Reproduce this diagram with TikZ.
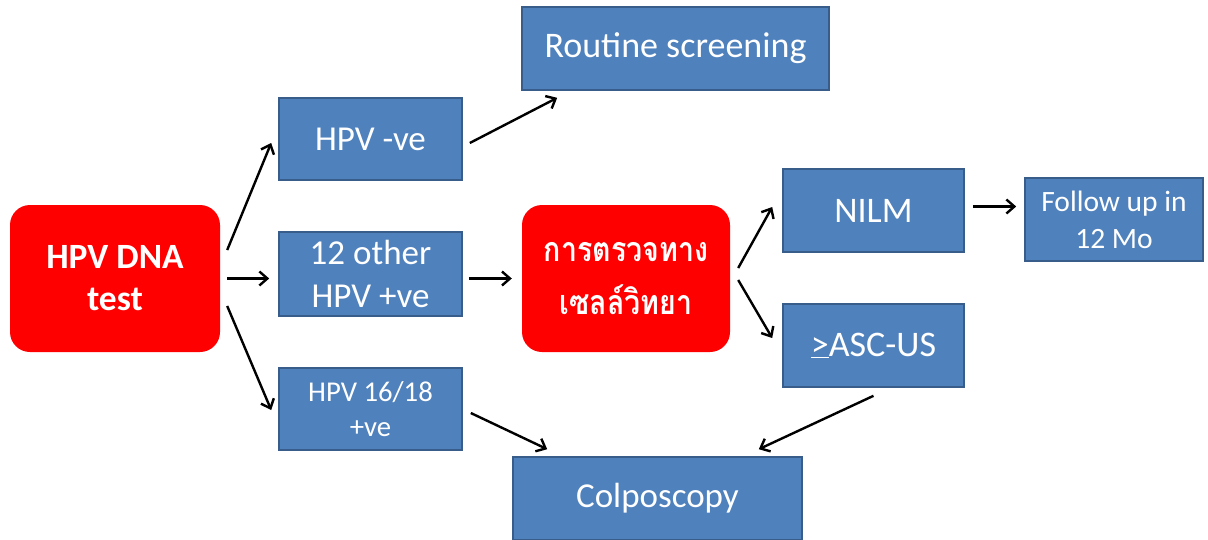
\documentclass[tikz,border=0pt]{standalone}
\usepackage{fontspec}
\setmainfont{Carlito}
\newfontfamily\thaifont[Script=Thai,FakeStretch=0.84]{Loma}
\usetikzlibrary{arrows.meta}

\definecolor{boxblue}{HTML}{4F81BD}
\definecolor{boxedge}{HTML}{385D8A}
\definecolor{alertred}{HTML}{FF0000}

\tikzset{
  bluebox/.style={rectangle, fill=boxblue, draw=boxedge, line width=1.6pt,
    text=white, inner sep=0pt, align=center},
  redbox/.style={rectangle, rounded corners=20pt, fill=alertred,
    text=white, inner sep=0pt, align=center},
  arr/.style={line width=2.4pt, -{Straight Barb[length=8pt,width=14pt,line width=2.4pt]}},
  fsz/.style n args={2}{font=\fontsize{#1}{#2}\selectfont}
}

\begin{document}
\begin{tikzpicture}[x=1pt,y=-1pt]
\useasboundingbox (0,0) rectangle (1208,539);

% start and decision boxes
\node[redbox, minimum width=210pt, minimum height=147pt,
  font=\fontsize{35.5}{42}\selectfont\bfseries] (dna) at (115,278.5) {HPV DNA\\test};
\node[redbox, minimum width=208pt, minimum height=147pt,
  font=\fontsize{34}{53}\selectfont\thaifont\bfseries] (cyto) at (626,278.5) {การตรวจทาง\\เซลล์วิทยา};

% outcome boxes
\node[bluebox, minimum width=183pt, minimum height=82pt, fsz={35}{42}] (neg) at (370.5,139) {HPV -ve};
\node[bluebox, minimum width=307pt, minimum height=83pt, fsz={36}{42}] (routine) at (675.5,48.5) {Routine screening};
\node[bluebox, minimum width=183pt, minimum height=84pt, fsz={35}{43}] (other) at (370.5,274) {12 other\\HPV +ve};
\node[bluebox, minimum width=183pt, minimum height=82pt, fsz={28.7}{35}] (hi) at (370.5,409) {HPV 16/18\\+ve};
\node[bluebox, minimum width=181pt, minimum height=83pt, fsz={36}{42}] (nilm) at (873.5,210.5) {NILM};
\node[bluebox, minimum width=178pt, minimum height=83pt, fsz={29.5}{37}] (follow) at (1114,219.5) {Follow up in\\12 Mo};
\node[bluebox, minimum width=181pt, minimum height=83pt, fsz={36}{42}] (asc) at (873.5,345.5) {\underline{>}ASC-US};
\node[bluebox, minimum width=289pt, minimum height=83pt, fsz={35}{42}] (colpo) at (657.5,498.5) {Colposcopy};

% connectors
\draw[arr] ([shift={(7pt,28.5pt)}]dna.east) -- ([shift={(-7pt,-4pt)}]neg.west);
\draw[arr, shorten <=7pt, shorten >=9pt] (dna.east) -- (dna.east -| other.west);
\draw[arr] ([shift={(7pt,-27.5pt)}]dna.east) -- ([shift={(-7pt,-1pt)}]hi.west);
\draw[arr] ([shift={(7pt,-4pt)}]neg.east) -- ([shift={(36pt,-7pt)}]routine.south west);
\draw[arr, shorten <=6pt, shorten >=10pt] (cyto.west -| other.east) -- (cyto.west);
\draw[arr] ([shift={(8pt,10.5pt)}]cyto.east) -- ([shift={(-10pt,3.5pt)}]nilm.west);
\draw[arr] ([shift={(8pt,-1.5pt)}]cyto.east) -- ([shift={(-10pt,7.5pt)}]asc.west);
\draw[arr] ([shift={(8pt,4pt)}]nilm.east) -- ([shift={(-8pt,4pt)}]nilm.east -| follow.west);
\draw[arr] ([shift={(8pt,-4pt)}]hi.east) -- ([shift={(35pt,7pt)}]colpo.north west);
\draw[arr] ([shift={(0pt,-8pt)}]asc.south) -- ([shift={(-44pt,7pt)}]colpo.north east);
\end{tikzpicture}
\end{document}
